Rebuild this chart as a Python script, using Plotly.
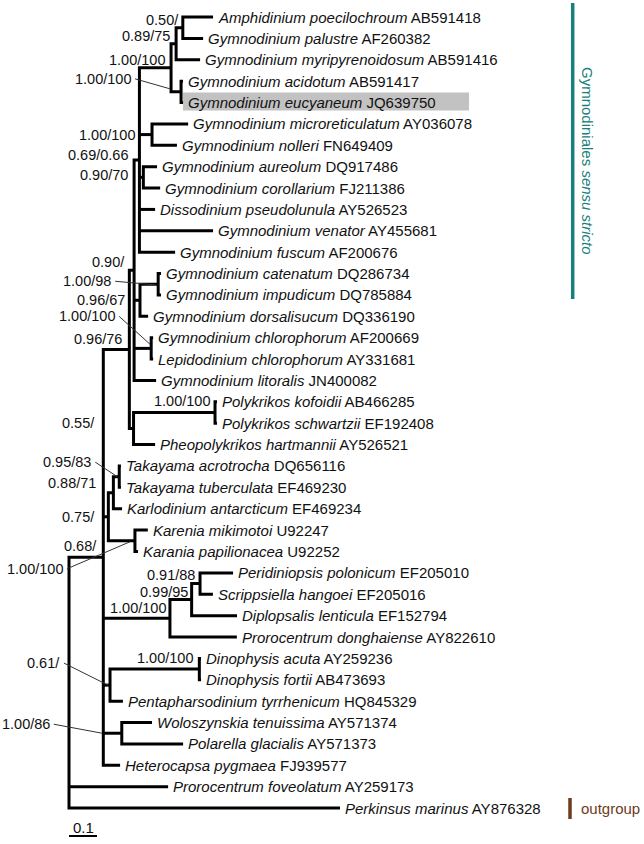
import plotly.graph_objects as go

# ---------------- data ----------------
leaf_keys = ["Apoe", "Gpal", "Gmyr", "Gaci", "Geuc", "Gmic", "Gnol", "Gaur", "Gcor", "Dpse",
             "Gven", "Gfus", "Gcat", "Gimp", "Gdor", "Gchl", "Lchl", "Glit", "Pkof", "Psch",
             "Phar", "Tacr", "Ttub", "Kant", "Kmik", "Kpap", "Ppol", "Shan", "Dlen", "Pdon",
             "Dacu", "Dfor", "Ptyr", "Wten", "Pgla", "Hpyg", "Pfov", "Pmar"]
species = ["Amphidinium poecilochroum", "Gymnodinium palustre", "Gymnodinium myripyrenoidosum",
           "Gymnodinium acidotum", "Gymnodinium eucyaneum", "Gymnodinium microreticulatum",
           "Gymnodinium nolleri", "Gymnodinium aureolum", "Gymnodinium corollarium",
           "Dissodinium pseudolunula", "Gymnodinium venator", "Gymnodinium fuscum",
           "Gymnodinium catenatum", "Gymnodinium impudicum", "Gymnodinium dorsalisucum",
           "Gymnodinium chlorophorum", "Lepidodinium chlorophorum", "Gymnodinium litoralis",
           "Polykrikos kofoidii", "Polykrikos schwartzii", "Pheopolykrikos hartmannii",
           "Takayama acrotrocha", "Takayama tuberculata", "Karlodinium antarcticum",
           "Karenia mikimotoi", "Karania papilionacea", "Peridiniopsis polonicum",
           "Scrippsiella hangoei", "Diplopsalis lenticula", "Prorocentrum donghaiense",
           "Dinophysis acuta", "Dinophysis fortii", "Pentapharsodinium tyrrhenicum",
           "Woloszynskia tenuissima", "Polarella glacialis", "Heterocapsa pygmaea",
           "Prorocentrum foveolatum", "Perkinsus marinus"]
accessions = ["AB591418", "AF260382", "AB591416", "AB591417", "JQ639750", "AY036078",
              "FN649409", "DQ917486", "FJ211386", "AY526523", "AY455681", "AF200676",
              "DQ286734", "DQ785884", "DQ336190", "AF200669", "AY331681", "JN400082",
              "AB466285", "EF192408", "AY526521", "DQ656116", "EF469230", "EF469234",
              "U92247", "U92252", "EF205010", "EF205016", "EF152794", "AY822610",
              "AY259236", "AB473693", "HQ845329", "AY571374", "AY571373", "FJ939577",
              "AY259173", "AY876328"]

newick = ("((((((((Apoe:0.108,Gpal:0.0725)T3:0.024,Gmyr:0.0857)T2:0.018,"
          "(Gaci:0.007,Geuc:0.007)AE:0.0357)T1:0.113,(Gmic:0.129,Gnol:0.089)MN:0.045,"
          "(Gaur:0.049,Gcor:0.060)AC:0.014,Dpse:0.056,Gven:0.263,Gfus:0.1275)A:0.019,"
          "((Gcat:0.01,Gimp:0.01)CI:0.065,Gdor:0.029)CAT:0.021,(Gchl:0.007,Lchl:0.007)CHL:0.061,"
          "Glit:0.0786)B:0.017,((Pkof:0.007,Psch:0.007)PK:0.291,Phar:0.077)P:0.015)C:0.093,"
          "(((Tacr:0.006,Ttub:0.006)TK:0.021,Kant:0.031)F:0.018,(Kmik:0.046,Kpap:0.011)KR:0.095)E:0.018,"
          "(((Ppol:0.118,Shan:0.046)I:0.030,Dlen:0.162)H:0.0775,Pdon:0.239)G:0.238,"
          "((Dacu:0.006,Dfor:0.006)K:0.319,Ptyr:0.046)J:0.024,(Wten:0.108,Pgla:0.219)L:0.066,"
          "Hpyg:0.06)D:0.1225,Pfov:0.354,Pmar:0.968)R;")

support = {"T3": "0.50/", "T2": "0.89/75", "T1": "1.00/100", "AE": "1.00/100",
           "MN": "1.00/100", "A": "0.69/0.66", "AC": "0.90/70", "B": "0.90/",
           "CI": "1.00/98", "CAT": "0.96/67", "CHL": "1.00/100", "C": "0.96/76",
           "PK": "1.00/100", "P": "0.55/", "TK": "0.95/83", "F": "0.88/71",
           "E": "0.75/", "D": "0.68/", "KR": "1.00/100", "I": "0.91/88",
           "H": "0.99/95", "G": "1.00/100", "K": "1.00/100", "J": "0.61/", "L": "1.00/86"}

scale_value = 0.1
highlight_leaf = "Geuc"

# ---------------- styling / placement (page pixels) ----------------
W, H = 644, 844
PX_PER_UNIT = 280.0               # pixels per substitution unit
ROOT_PX = 69.0
LEAF0_PX = 17.0
LEAF_STEP = 21.38
FONT = "Liberation Sans, Arial, sans-serif"

label_off = {"T3": (-2, -8), "T2": (-4, -8), "T1": (-4, -8), "MN": (-15, 0), "A": (-9, -5),
             "AC": (-13, -2), "B": (-7, -8), "CAT": (-13, 0), "C": (-5, -10), "PK": (-3, -12),
             "P": (-36.5, -6), "F": (-15, -10), "E": (-11, 0), "D": (-4, -11), "I": (-3, -9),
             "H": (-2, -8), "G": (-2, -10), "K": (-4, -11)}
# leader labels: (label right-edge offset, leader target offset)
leader_off = {"AE": ((-48, -13), (-11, -3)), "CI": ((-45, -3), (-2, 0.7)),
              "CHL": ((-34, -32), (-1, -4)), "TK": ((-26, -14.5), (-2, 0)),
              "KR": ((-70, 28), (-5, 1)), "J": ((-48, -22), (-2, 0)),
              "L": ((-70, -9), (-19.7, 0))}


# ---------------- parse tree ----------------
def parse(s):
    pos = 0

    def node():
        nonlocal pos
        children = []
        if s[pos] == "(":
            pos += 1
            while True:
                children.append(node())
                if s[pos] == ",":
                    pos += 1
                    continue
                pos += 1
                break
        st = pos
        while s[pos] not in ":,);":
            pos += 1
        name = s[st:pos]
        length = 0.0
        if s[pos] == ":":
            pos += 1
            st = pos
            while s[pos] not in ",);":
                pos += 1
            length = float(s[st:pos])
        return {"name": name, "len": length, "children": children}

    return node()


tree = parse(newick)
pos_x, pos_y = {}, {}


def layout(n, x0):
    x = x0 + n["len"]
    pos_x[n["name"]] = x
    if not n["children"]:
        pos_y[n["name"]] = leaf_keys.index(n["name"])
    else:
        for c in n["children"]:
            layout(c, x)
        pos_y[n["name"]] = (pos_y[n["children"][0]["name"]] + pos_y[n["children"][-1]["name"]]) / 2


layout(tree, 0.0)

xs, ys = [], []


def draw(n):
    ch = n["children"]
    if not ch:
        return
    px = pos_x[n["name"]]
    f, l = ch[0]["name"], ch[-1]["name"]
    xs.extend([pos_x[f], px, px, pos_x[l], None])
    ys.extend([pos_y[f], pos_y[f], pos_y[l], pos_y[l], None])
    for c in ch[1:-1]:
        xs.extend([px, pos_x[c["name"]], None])
        ys.extend([pos_y[c["name"]], pos_y[c["name"]], None])
    for c in ch:
        draw(c)


draw(tree)


def dx(p):
    return p / PX_PER_UNIT


def dy(p):
    return p / LEAF_STEP


x_range = [dx(-ROOT_PX), dx(W - ROOT_PX)]
y_range = [dy(H - LEAF0_PX), dy(-LEAF0_PX)]

fig = go.Figure()
fig.add_trace(go.Scatter(x=xs, y=ys, mode="lines", hoverinfo="skip",
                         line=dict(color="black", width=3), showlegend=False))

annotations = []
shapes = []

# leaf labels
for i, k in enumerate(leaf_keys):
    annotations.append(dict(x=pos_x[k], y=pos_y[k], xref="x", yref="y",
                            text=f"<i>{species[i]}</i> {accessions[i]}", showarrow=False,
                            xanchor="left", yanchor="middle", xshift=3,
                            font=dict(family=FONT, size=15, color="#111")))

# highlight box
hx = pos_x[highlight_leaf]
hy = pos_y[highlight_leaf]
shapes.append(dict(type="rect", xref="x", yref="y", layer="below",
                   x0=hx, x1=hx + dx(286), y0=hy - dy(10), y1=hy + dy(8),
                   fillcolor="#c2c2c2", line=dict(width=0)))

# support values
lx, ly = [], []
for k, t in support.items():
    if k in leader_off:
        (ox, oy), (tx, ty) = leader_off[k]
        lx.extend([pos_x[k] + dx(ox + 2), pos_x[k] + dx(tx), None])
        ly.extend([pos_y[k] + dy(oy), pos_y[k] + dy(ty), None])
    else:
        ox, oy = label_off[k]
    annotations.append(dict(x=pos_x[k], y=pos_y[k], xref="x", yref="y", text=t,
                            showarrow=False, xanchor="right", yanchor="middle",
                            xshift=ox, yshift=-oy,
                            font=dict(family=FONT, size=14.5, color="#111")))

fig.add_trace(go.Scatter(x=lx, y=ly, mode="lines", hoverinfo="skip",
                         line=dict(color="#333", width=1), showlegend=False))

# scale bar
sb_y = dy(836 - LEAF0_PX)
fig.add_trace(go.Scatter(x=[0, scale_value], y=[sb_y, sb_y], mode="lines", hoverinfo="skip",
                         line=dict(color="black", width=2), showlegend=False))
annotations.append(dict(x=scale_value / 2, y=sb_y, xref="x", yref="y", text=str(scale_value),
                        showarrow=False, xanchor="center", yanchor="middle", yshift=9,
                        font=dict(family=FONT, size=15, color="#111")))

# group bars
teal = "#17807a"
brown = "#6e3b1c"
gx = dx(572.7 - ROOT_PX)
shapes.append(dict(type="line", xref="x", yref="y", x0=gx, x1=gx,
                   y0=dy(3 - LEAF0_PX), y1=dy(299 - LEAF0_PX), line=dict(color=teal, width=3.5)))
annotations.append(dict(x=dx(588 - ROOT_PX), y=dy(161 - LEAF0_PX), xref="x", yref="y",
                        text="Gymnodiniales <i>sensu stricto</i>", textangle=90, showarrow=False,
                        xanchor="center", yanchor="middle",
                        font=dict(family=FONT, size=15, color=teal)))
ox_ = dx(570 - ROOT_PX)
shapes.append(dict(type="line", xref="x", yref="y", x0=ox_, x1=ox_,
                   y0=dy(798 - LEAF0_PX), y1=dy(819 - LEAF0_PX), line=dict(color=brown, width=3.5)))
annotations.append(dict(x=dx(579 - ROOT_PX), y=pos_y["Pmar"], xref="x", yref="y",
                        text="outgroup", showarrow=False, xanchor="left", yanchor="middle",
                        font=dict(family=FONT, size=15, color=brown)))

fig.update_layout(width=W, height=H, autosize=False,
                  margin=dict(l=0, r=0, t=0, b=0, pad=0),
                  paper_bgcolor="white", plot_bgcolor="white",
                  annotations=annotations, shapes=shapes,
                  xaxis=dict(range=x_range, visible=False, fixedrange=True),
                  yaxis=dict(range=y_range, visible=False, fixedrange=True))

fig.write_html("out.html", config={"displayModeBar": False},
               post_script="document.body.style.margin='0';document.body.style.overflow='hidden';")
